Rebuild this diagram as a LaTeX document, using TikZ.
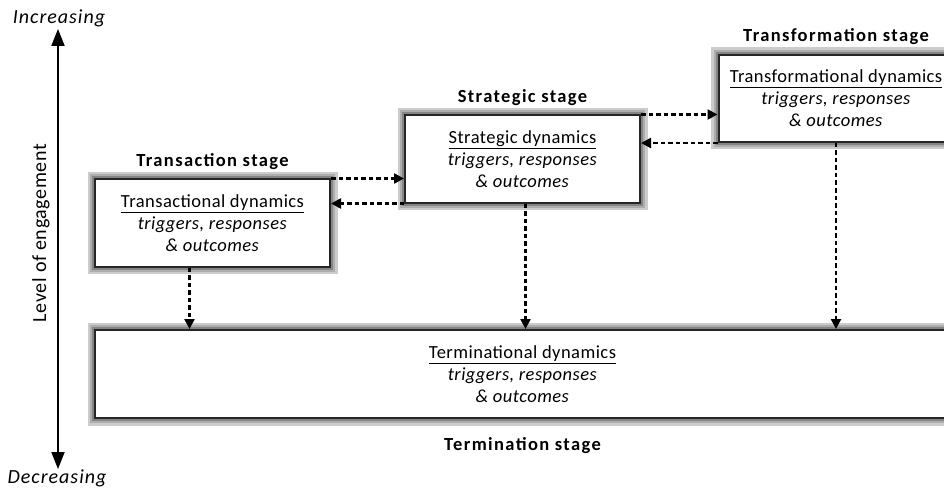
\documentclass[tikz,border=0pt]{standalone}
\usepackage{fontspec}
\setmainfont{Carlito}
\newfontfamily\bodyfont{Carlito}[LetterSpace=2.5]
\newfontfamily\headfont{Carlito}[LetterSpace=7.5]
\newfontfamily\axisfont{Carlito}[LetterSpace=5]
\newfontfamily\levelfont{Carlito}[LetterSpace=3]
\usetikzlibrary{arrows.meta,positioning,calc}

\begin{document}
\begin{tikzpicture}[x=1pt,y=-1pt]

		\tikzset{stage/.style={draw=black!85,line width=2pt,fill=white,align=center,
				minimum width=235pt,minimum height=87pt,inner sep=2pt,
				font=\bodyfont\fontsize{18.5}{22}\selectfont,
				preaction={draw=black!20,line width=15pt},
				preaction={draw=black!32,line width=10pt},
				preaction={draw=black!48,line width=6pt}}}
		\tikzset{head/.style={font=\headfont\fontsize{18.5}{22}\selectfont\bfseries,inner sep=2pt}}
		\tikzset{axislabel/.style={font=\axisfont\fontsize{20}{22}\selectfont\itshape,inner sep=1pt}}
		\tikzset{flow/.style={draw,line width=2.4pt,dash pattern=on 4.5pt off 3pt,-{Triangle[width=10pt,length=10pt]}}}
		\tikzset{axis/.style={draw,line width=2pt,{Triangle[width=13pt,length=17pt]}-{Triangle[width=13pt,length=17pt]}}}

		\clip (0,0) rectangle (944,489);

		% level of engagement axis
		\node[axislabel] (inc) at (59,18) {Increasing};
		\node[axislabel] (dec) at (57,478) {Decreasing};
		\coordinate (top) at (58,29);
		\coordinate (bot) at (58,469);
		\path[axis] (bot) -- (top);
		\node[rotate=90,font=\levelfont\fontsize{20}{22}\selectfont] (lvl) at (41,233) {Level of engagement};

		% stages
		\node[stage] (trans) at (212.5,223) {\underline{Transactional dynamics}\\ \textit{triggers, responses}\\ \textit{\& outcomes}};
		\node[stage] (strat) at (522.5,159) {\underline{Strategic dynamics}\\ \textit{triggers, responses}\\ \textit{\& outcomes}};
		\node[stage] (transf) at (836,98.5) {\underline{Transformational dynamics}\\ \textit{triggers, responses}\\ \textit{\& outcomes}};
		\node[stage,minimum width=855pt,minimum height=88pt] (term) at (522.5,374) {\underline{Terminational dynamics}\\ \textit{triggers, responses}\\ \textit{\& outcomes}};

		\node[head,above=7pt of trans] (transhead) {Transaction stage};
		\node[head,above=7pt of strat] (strathead) {Strategic stage};
		\node[head,above=7pt of transf] (transfhead) {Transformation stage};
		\node[head,below=16pt of term] (termhead) {Termination stage};

		% moving between stages
		\path[flow] (trans.north east) -- (trans.north east -| strat.west);
		\path[flow] (strat.south west) -- (strat.south west -| trans.east);
		\path[flow] (strat.north east) -- (strat.north east -| transf.west);
		\path[flow] (transf.south west) -- (transf.south west -| strat.east);

		% ending
		\path[flow] ([xshift=-23pt]trans.south) -- ([xshift=-23pt]trans.south |- term.north);
		\path[flow] ([xshift=3pt]strat.south) -- ([xshift=3pt]strat.south |- term.north);
		\path[flow] (transf.south) -- (transf.south |- term.north);

	\end{tikzpicture}
\end{document}
